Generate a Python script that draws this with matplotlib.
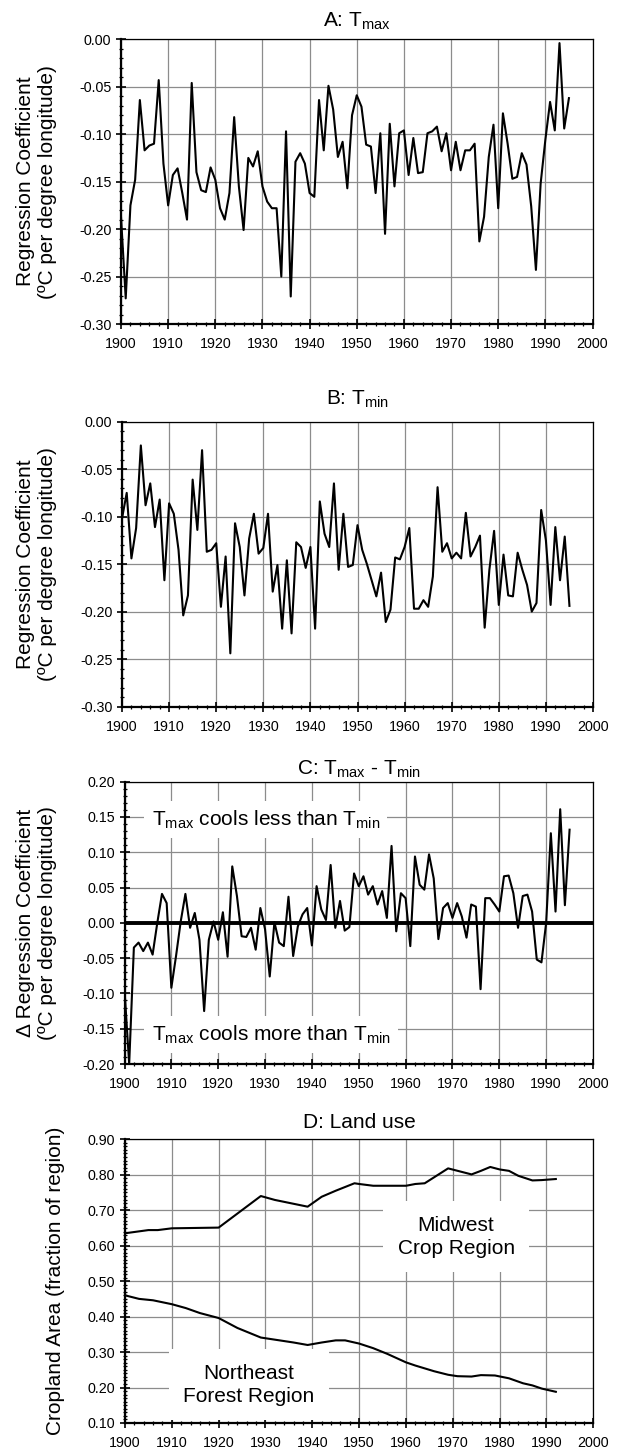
import matplotlib
matplotlib.use("Agg")
import matplotlib.pyplot as plt
from matplotlib.ticker import MultipleLocator, FormatStrFormatter

plt.rcParams['font.family'] = ['Liberation Sans', 'DejaVu Sans']
plt.rcParams['mathtext.fontset'] = 'custom'
plt.rcParams['mathtext.rm'] = 'Liberation Sans'
plt.rcParams['mathtext.it'] = 'Liberation Sans:italic'
plt.rcParams['mathtext.bf'] = 'Liberation Sans:bold'
plt.rcParams['axes.unicode_minus'] = False

# ---------------- data ----------------
years = list(range(1900, 1996))

tmax = [-0.187, -0.273, -0.175, -0.148, -0.064, -0.117, -0.112, -0.110, -0.043, -0.131,
        -0.175, -0.143, -0.136, -0.162, -0.190, -0.046, -0.140, -0.159, -0.161, -0.135,
        -0.148, -0.178, -0.190, -0.162, -0.082, -0.155, -0.201, -0.125, -0.134, -0.118,
        -0.155, -0.171, -0.178, -0.178, -0.250, -0.097, -0.271, -0.129, -0.120, -0.131,
        -0.162, -0.166, -0.064, -0.117, -0.049, -0.074, -0.124, -0.108, -0.157, -0.080,
        -0.059, -0.071, -0.111, -0.113, -0.162, -0.099, -0.205, -0.089, -0.155, -0.099,
        -0.096, -0.143, -0.104, -0.141, -0.140, -0.099, -0.097, -0.092, -0.118, -0.099,
        -0.138, -0.108, -0.138, -0.117, -0.117, -0.110, -0.213, -0.187, -0.124, -0.090,
        -0.178, -0.078, -0.110, -0.147, -0.145, -0.120, -0.132, -0.176, -0.243, -0.152,
        -0.106, -0.066, -0.096, -0.004, -0.094, -0.062]

tmin = [-0.102, -0.075, -0.144, -0.112, -0.025, -0.088, -0.065, -0.111, -0.082, -0.167,
        -0.086, -0.097, -0.135, -0.204, -0.183, -0.061, -0.114, -0.030, -0.137, -0.135,
        -0.128, -0.195, -0.142, -0.244, -0.107, -0.132, -0.183, -0.123, -0.097, -0.139,
        -0.133, -0.097, -0.179, -0.151, -0.218, -0.146, -0.223, -0.127, -0.132, -0.154,
        -0.132, -0.218, -0.084, -0.118, -0.132, -0.065, -0.156, -0.097, -0.153, -0.151,
        -0.109, -0.135, -0.150, -0.167, -0.184, -0.159, -0.211, -0.198, -0.143, -0.145,
        -0.132, -0.112, -0.197, -0.197, -0.188, -0.195, -0.163, -0.069, -0.137, -0.128,
        -0.144, -0.138, -0.144, -0.096, -0.142, -0.132, -0.120, -0.217, -0.156, -0.115,
        -0.193, -0.140, -0.183, -0.184, -0.138, -0.156, -0.172, -0.200, -0.191, -0.093,
        -0.125, -0.193, -0.111, -0.167, -0.121, -0.194]

delta = [-0.095, -0.200, -0.035, -0.028, -0.040, -0.028, -0.045, 0.000, 0.041, 0.028,
         -0.092, -0.047, 0.002, 0.041, -0.007, 0.014, -0.024, -0.125, -0.024, 0.002,
         -0.024, 0.015, -0.048, 0.080, 0.038, -0.019, -0.020, -0.007, -0.038, 0.021,
         -0.009, -0.076, 0.001, -0.028, -0.033, 0.037, -0.047, -0.005, 0.012, 0.021,
         -0.032, 0.052, 0.019, 0.004, 0.082, -0.007, 0.031, -0.011, -0.006, 0.070,
         0.052, 0.066, 0.040, 0.052, 0.026, 0.045, 0.007, 0.109, -0.012, 0.042,
         0.035, -0.033, 0.094, 0.054, 0.047, 0.097, 0.063, -0.023, 0.021, 0.028,
         0.007, 0.028, 0.009, -0.021, 0.026, 0.023, -0.094, 0.035, 0.035, 0.026,
         0.016, 0.066, 0.067, 0.042, -0.007, 0.038, 0.040, 0.016, -0.052, -0.056,
         0.000, 0.127, 0.016, 0.161, 0.025, 0.132]

mw_years = [1900, 1905, 1907, 1910, 1920, 1929, 1932, 1939, 1942, 1945, 1949, 1950, 1953,
            1960, 1962, 1964, 1969, 1974, 1976, 1978, 1980, 1982, 1984, 1987, 1989, 1992]
mw_vals = [0.635, 0.644, 0.644, 0.649, 0.651, 0.740, 0.729, 0.710, 0.738, 0.755, 0.776,
           0.774, 0.769, 0.769, 0.774, 0.776, 0.818, 0.801, 0.811, 0.822, 0.815, 0.811,
           0.797, 0.784, 0.785, 0.788]

ne_years = [1900, 1903, 1906, 1910, 1913, 1916, 1920, 1924, 1929, 1932, 1936, 1939, 1942,
            1945, 1947, 1950, 1953, 1956, 1960, 1962, 1966, 1969, 1971, 1974, 1976, 1979,
            1982, 1985, 1987, 1989, 1992]
ne_vals = [0.460, 0.450, 0.446, 0.435, 0.424, 0.410, 0.396, 0.368, 0.341, 0.335, 0.327,
           0.320, 0.327, 0.333, 0.333, 0.324, 0.311, 0.295, 0.271, 0.262, 0.246, 0.236,
           0.232, 0.231, 0.235, 0.234, 0.226, 0.212, 0.206, 0.197, 0.188]

# ---------------- layout ----------------
W, H = 619, 1452
fig = plt.figure(figsize=(W / 100, H / 100), dpi=100)


def add_axes(l, r, t, b):
    return fig.add_axes([l / W, 1 - b / H, (r - l) / W, (b - t) / H])


def style(ax, ylim, ymajor, yminor, fmt):
    ax.set_xlim(1900, 2000)
    ax.set_ylim(*ylim)
    ax.xaxis.set_major_locator(MultipleLocator(10))
    ax.xaxis.set_minor_locator(MultipleLocator(2))
    ax.yaxis.set_major_locator(MultipleLocator(ymajor))
    ax.yaxis.set_minor_locator(MultipleLocator(yminor))
    ax.yaxis.set_major_formatter(FormatStrFormatter(fmt))
    ax.grid(True, which='major', color='#8c8c8c', lw=0.9)
    ax.set_axisbelow(True)
    for s in ['left', 'bottom']:
        ax.spines[s].set_linewidth(1.6)
    for s in ['top', 'right']:
        ax.spines[s].set_linewidth(0.9)
    ax.tick_params(which='major', direction='inout', length=7, width=1.2,
                   labelsize=10.3, top=False, right=False)
    ax.tick_params(which='minor', direction='inout', length=3.5, width=0.9,
                   top=False, right=False)
    ax.tick_params(axis='x', which='major', pad=6)
    ax.tick_params(axis='y', which='major', pad=3.5)


ylab_reg = "Regression Coefficient\n(\u00baC per degree longitude)"

# Panel A
axA = add_axes(121, 592.5, 39.3, 324)
axA.plot(years, tmax, color='black', lw=1.5)
style(axA, (-0.30, 0.0), 0.05, 0.01, '%.2f')
axA.set_title(r"A: T$_{\rm max}$", fontsize=15, pad=9)
axA.set_ylabel(ylab_reg, fontsize=15)
axA.yaxis.set_label_coords(-0.135, 0.5)

# Panel B
axB = add_axes(122, 593, 421.7, 706.5)
axB.plot(years, tmin, color='black', lw=1.5)
style(axB, (-0.30, 0.0), 0.05, 0.01, '%.2f')
axB.set_title(r"B: T$_{\rm min}$", fontsize=15, pad=12)
axB.set_ylabel(ylab_reg, fontsize=15)
axB.yaxis.set_label_coords(-0.137, 0.5)

# Panel C
axC = add_axes(124.5, 593, 781.7, 1064)
axC.plot(years, delta, color='black', lw=1.5)
axC.axhline(0, color='black', lw=2.8, zorder=3)
style(axC, (-0.20, 0.20), 0.05, 0.01, '%.2f')
axC.set_title(r"C: T$_{\rm max}$ - T$_{\rm min}$", fontsize=15, pad=5)
axC.set_ylabel("\u0394 Regression Coefficient\n(\u00baC per degree longitude)", fontsize=15)
axC.yaxis.set_label_coords(-0.145, 0.5)
box = dict(boxstyle='square,pad=0.35', facecolor='white', edgecolor='none')
axC.text(1905.8, 0.138, r"T$_{\rm max}$ cools less than T$_{\rm min}$", fontsize=15,
         ha='left', va='baseline', bbox=box, zorder=2)
axC.text(1905.8, -0.167, r"T$_{\rm max}$ cools more than T$_{\rm min}$", fontsize=15,
         ha='left', va='baseline', bbox=box, zorder=2)

# Panel D
axD = add_axes(125, 593.3, 1139.3, 1423)
axD.plot(mw_years, mw_vals, color='black', lw=1.5)
axD.plot(ne_years, ne_vals, color='black', lw=1.5)
style(axD, (0.10, 0.90), 0.10, 0.01, '%.2f')
axD.set_title("D: Land use", fontsize=15, pad=8)
axD.set_ylabel("Cropland Area (fraction of region)", fontsize=15)
axD.yaxis.set_label_coords(-0.128, 0.5)
box2 = dict(boxstyle='square,pad=0.7', facecolor='white', edgecolor='none')
axD.text(1970.7, 0.625, "Midwest\nCrop Region", fontsize=15, ha='center', va='center',
         bbox=box2, zorder=2, linespacing=1.25)
axD.text(1926.5, 0.208, "Northeast\nForest Region", fontsize=15, ha='center', va='center',
         bbox=box2, zorder=2, linespacing=1.25)

fig.savefig("out.png", dpi=100)
